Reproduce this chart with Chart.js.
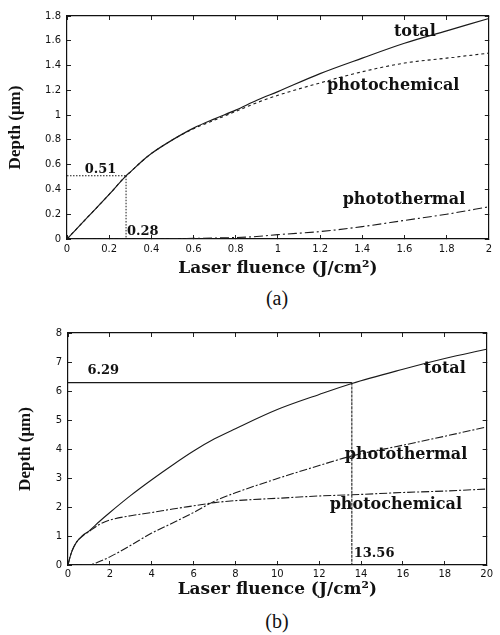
<!DOCTYPE html>
<html>
<head>
<meta charset="utf-8">
<script src="https://cdn.jsdelivr.net/npm/chart.js@4.4.1/dist/chart.umd.min.js"></script>
<style>
  html,body{margin:0;padding:0;background:#fff;}
  body{width:500px;height:635px;position:relative;overflow:hidden;}
  .wrap{position:absolute;left:0;width:500px;}
  .cap{position:absolute;width:60px;text-align:center;font-family:"Liberation Serif","Times New Roman",serif;font-size:20px;color:#111;line-height:24px;}
</style>
</head>
<body>
<div class="wrap" style="top:0;height:280px"><canvas id="ca" width="500" height="280"></canvas></div>
<div class="wrap" style="top:310px;height:290px"><canvas id="cb" width="500" height="290"></canvas></div>
<div class="cap" style="left:247px;top:286px">(a)</div>
<div class="cap" style="left:247px;top:609px">(b)</div>
<script>
// ---------- data (a) ----------
const fluenceA = [0, 0.1, 0.2, 0.28, 0.3, 0.35, 0.4, 0.5, 0.6, 0.7, 0.8, 0.9, 1.0, 1.2, 1.4, 1.6, 1.8, 2.0];
const totalA = [0, 0.18, 0.36, 0.51, 0.54, 0.62, 0.69, 0.80, 0.895, 0.97, 1.04, 1.12, 1.19, 1.335, 1.46, 1.58, 1.68, 1.78];
const photochemicalA = [0, 0.18, 0.36, 0.51, 0.54, 0.62, 0.69, 0.80, 0.89, 0.96, 1.03, 1.10, 1.16, 1.26, 1.35, 1.42, 1.46, 1.50];
const photothermalA = [0, 0, 0, 0, 0, 0, 0, 0.002, 0.005, 0.008, 0.012, 0.02, 0.035, 0.06, 0.10, 0.15, 0.20, 0.26];
const thresholdA = [0.28, 0.51]; // fluence, depth

// ---------- data (b) ----------
const fluenceB = [0, 0.1, 0.2, 0.4, 0.7, 1, 1.5, 2, 3, 4, 5, 6, 7, 8, 10, 12, 13.56, 16, 18, 20];
const totalB = [0, 0.28, 0.5, 0.78, 1.02, 1.17, 1.5, 1.81, 2.4, 2.94, 3.45, 3.93, 4.35, 4.7, 5.36, 5.88, 6.26, 6.75, 7.12, 7.44];
const photochemicalB = [0, 0.28, 0.5, 0.78, 1.0, 1.15, 1.40, 1.55, 1.70, 1.81, 1.93, 2.04, 2.15, 2.22, 2.30, 2.38, 2.42, 2.50, 2.55, 2.62];
const photothermalB = [0, 0, 0, 0, 0, 0, 0.12, 0.28, 0.68, 1.1, 1.45, 1.81, 2.2, 2.49, 2.98, 3.43, 3.76, 4.13, 4.44, 4.76];
const thresholdB = [13.56, 6.29];

// tick settings
const xTicksA = {min: 0, max: 2, step: 0.2};
const yTicksA = {min: 0, max: 1.8, step: 0.2};
const xTicksB = {min: 0, max: 20, step: 2};
const yTicksB = {min: 0, max: 8, step: 1};

const labelsA = [
  {text: 'total', x: 1.55, y: 1.67, big: true},
  {text: 'photochemical', x: 1.233, y: 1.24, big: true},
  {text: 'photothermal', x: 1.307, y: 0.317, big: true},
  {text: '0.51', x: 0.084, y: 0.563},
  {text: '0.28', x: 0.284, y: 0.058}
];
const labelsB = [
  {text: 'total', x: 17.0, y: 6.75, big: true},
  {text: 'photothermal', x: 13.22, y: 3.81, big: true},
  {text: 'photochemical', x: 12.5, y: 2.08, big: true},
  {text: '6.29', x: 0.93, y: 6.69},
  {text: '13.56', x: 13.65, y: 0.40}
];

const pts = (xs, ys) => xs.map((x, i) => ({x: x, y: ys[i]}));
const fmt = v => String(Math.round(v * 100) / 100);

const textPlugin = {
  id: 'curveText',
  afterDatasetsDraw(chart, args, opts) {
    const ctx = chart.ctx, xs = chart.scales.x, ys = chart.scales.y;
    ctx.save();
    ctx.fillStyle = '#111';
    ctx.textAlign = 'left';
    ctx.textBaseline = 'middle';
    (opts.items || []).forEach(it => {
      ctx.font = it.big ? 'bold 16px "DejaVu Serif", serif' : 'bold 13px "DejaVu Serif", serif';
      ctx.fillText(it.text, xs.getPixelForValue(it.x), ys.getPixelForValue(it.y));
    });
    ctx.restore();
  }
};

function curve(data, dash, width) {
  return {data: data, borderColor: '#1a1a1a', borderWidth: width || 1.1, borderDash: dash || [],
          pointRadius: 0, cubicInterpolationMode: 'monotone', fill: false};
}

function makeChart(id, cfg) {
  const tickFont = {family: '"DejaVu Sans", sans-serif', size: 10};
  const titleFontX = {family: '"DejaVu Serif", serif', size: 17, weight: 'bold'};
  const titleFontY = {family: '"Liberation Serif", "Times New Roman", serif', size: 17, weight: 'bold'};
  const gridBase = {drawOnChartArea: false, drawTicks: true, tickLength: -4, color: '#222', lineWidth: 1};
  const borderBase = {display: true, color: '#111', width: 1.2};
  const axisX = (pos, t, show) => ({
    type: 'linear', position: pos, min: t.min, max: t.max,
    ticks: {display: show, stepSize: t.step, font: tickFont, color: '#111', padding: show ? cfg.xTickPad : 0, maxRotation: 0, autoSkip: false, callback: fmt},
    grid: gridBase, border: borderBase
  });
  const axisY = (pos, t, show) => ({
    type: 'linear', position: pos, min: t.min, max: t.max,
    ticks: {display: show, stepSize: t.step, font: tickFont, color: '#111', padding: show ? 10 : 0, autoSkip: false, callback: fmt},
    grid: gridBase, border: borderBase
  });
  const x = axisX('bottom', cfg.xt, true);
  x.title = {display: true, text: 'Laser fluence (J/cm²)', font: titleFontX, color: '#111', padding: {top: 0, bottom: cfg.xTitlePad}};
  x.afterFit = s => { s.height = cfg.xh; };
  const y = axisY('left', cfg.yt, true);
  y.title = {display: true, text: 'Depth (μm)', font: titleFontY, color: '#111', padding: {top: cfg.yTitlePad, bottom: 0}};
  y.afterFit = s => { s.width = cfg.yw; };
  const x2 = axisX('top', cfg.xt, false);
  x2.afterFit = s => { s.height = 0; };
  const y2 = axisY('right', cfg.yt, false);
  y2.afterFit = s => { s.width = 0; };

  return new Chart(document.getElementById(id), {
    type: 'line',
    data: {datasets: cfg.datasets},
    options: {
      responsive: false, animation: false, parsing: true,
      layout: {padding: {left: 0, right: 3, top: cfg.top, bottom: 0}},
      plugins: {legend: {display: false}, tooltip: {enabled: false}, curveText: {items: cfg.labels}},
      scales: {x: x, y: y, x2: x2, y2: y2}
    },
    plugins: [textPlugin]
  });
}

makeChart('ca', {
  xt: xTicksA, yt: yTicksA, xh: 41, yw: 67, top: 12, xTickPad: 8, xTitlePad: 1, yTitlePad: 5,
  labels: labelsA,
  datasets: [
    curve(pts(fluenceA, totalA), [], 1.2),
    curve(pts(fluenceA, photochemicalA), [3, 3], 1.1),
    curve(pts(fluenceA, photothermalA), [9, 3, 2, 3], 1.1),
    curve([{x: 0, y: thresholdA[1]}, {x: thresholdA[0], y: thresholdA[1]}], [1.5, 1.5], 1.1),
    curve([{x: thresholdA[0], y: thresholdA[1]}, {x: thresholdA[0], y: 0}], [1.5, 1.5], 1)
  ]
});

makeChart('cb', {
  xt: xTicksB, yt: yTicksB, xh: 35, yw: 68, top: 23, xTickPad: 7, xTitlePad: 0, yTitlePad: 15,
  labels: labelsB,
  datasets: [
    curve(pts(fluenceB, totalB), [], 1.1),
    curve(pts(fluenceB, photothermalB), [8, 2, 2, 2], 1.1),
    curve(pts(fluenceB, photochemicalB), [8, 2, 2, 2], 1.1),
    curve([{x: 0, y: thresholdB[1]}, {x: thresholdB[0], y: thresholdB[1]}], [], 1.3),
    curve([{x: thresholdB[0], y: thresholdB[1]}, {x: thresholdB[0], y: 0}], [3, 1], 1.1)
  ]
});
</script>
</body>
</html>
